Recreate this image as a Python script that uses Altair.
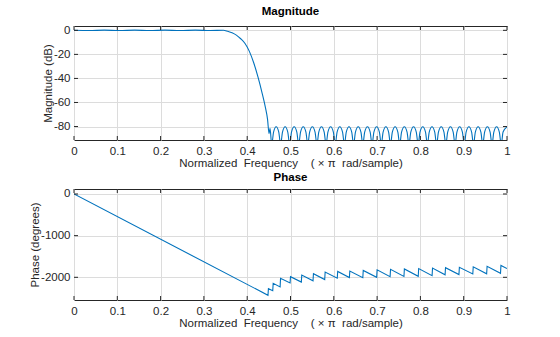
import altair as alt
import pandas as pd

FONT = "Liberation Sans"
LINE = "#0072BD"
TXT = "#262626"

freq_ticks = [0, 0.1, 0.2, 0.3, 0.4, 0.5, 0.6, 0.7, 0.8, 0.9, 1]
mag_ticks = [0, -20, -40, -60, -80]
phase_ticks = [0, -1000, -2000]

# Magnitude response (dB): passband, roll-off, then stopband lobes (null, shoulder, peak, shoulder)
mag_freq = [
    0.0, 0.035, 0.07, 0.105, 0.14, 0.175, 0.21, 0.245, 0.28, 0.315, 0.345,
    0.355, 0.365, 0.375, 0.385, 0.395, 0.405, 0.415, 0.425, 0.435, 0.442, 0.447, 0.4505, 0.4527,
    0.4566, 0.4609, 0.4669, 0.4729,
    0.4772, 0.4815, 0.4876, 0.4937,
    0.4980, 0.5023, 0.5085, 0.5146,
    0.5189, 0.5232, 0.5294, 0.5356,
    0.5399, 0.5442, 0.5505, 0.5567,
    0.5610, 0.5653, 0.5716, 0.5778,
    0.5821, 0.5864, 0.5927, 0.5990,
    0.6033, 0.6076, 0.6139, 0.6202,
    0.6245, 0.6288, 0.6351, 0.6414,
    0.6457, 0.6500, 0.6564, 0.6627,
    0.6670, 0.6713, 0.6777, 0.6840,
    0.6883, 0.6926, 0.6990, 0.7053,
    0.7096, 0.7139, 0.7203, 0.7266,
    0.7309, 0.7352, 0.7416, 0.7479,
    0.7522, 0.7565, 0.7629, 0.7692,
    0.7735, 0.7778, 0.7842, 0.7905,
    0.7948, 0.7991, 0.8055, 0.8118,
    0.8161, 0.8204, 0.8268, 0.8331,
    0.8374, 0.8417, 0.8481, 0.8544,
    0.8587, 0.8630, 0.8694, 0.8757,
    0.8800, 0.8843, 0.8907, 0.8970,
    0.9013, 0.9056, 0.9120, 0.9183,
    0.9226, 0.9269, 0.9333, 0.9397,
    0.9440, 0.9483, 0.9547, 0.9610,
    0.9653, 0.9696, 0.9760, 0.9823,
    0.9866, 0.9909, 1.0,
]
mag_db = [
    0.05, -0.15, 0.15, -0.15, 0.15, -0.15, 0.15, -0.15, 0.15, -0.15, 0.1,
    -0.8, -2.0, -4.0, -7.0, -11.0, -17.5, -27.0, -39.0, -53.0, -64.0, -74.0, -86.0, -81.5,
    -95, -84.6, -80.2, -84.6,
    -95, -84.6, -80.2, -84.6,
    -95, -84.6, -80.2, -84.6,
    -95, -84.6, -80.2, -84.6,
    -95, -84.6, -80.2, -84.6,
    -95, -84.6, -80.2, -84.6,
    -95, -84.6, -80.2, -84.6,
    -95, -84.6, -80.2, -84.6,
    -95, -84.6, -80.2, -84.6,
    -95, -84.6, -80.2, -84.6,
    -95, -84.6, -80.2, -84.6,
    -95, -84.6, -80.2, -84.6,
    -95, -84.6, -80.2, -84.6,
    -95, -84.6, -80.2, -84.6,
    -95, -84.6, -80.2, -84.6,
    -95, -84.6, -80.2, -84.6,
    -95, -84.6, -80.2, -84.6,
    -95, -84.6, -80.2, -84.6,
    -95, -84.6, -80.2, -84.6,
    -95, -84.6, -80.2, -84.6,
    -95, -84.6, -80.2, -84.6,
    -95, -84.6, -80.2, -84.6,
    -95, -84.6, -80.2, -84.6,
    -95, -84.6, -80.2, -84.6,
    -95, -84.6, -80.2, -84.6,
    -95, -84.6, -80.3,
]

# Unwrapped phase (degrees)
phase_freq = [
    0.0, 0.448, 0.449, 0.459, 0.460, 0.476, 0.477, 0.499, 0.500, 0.525, 0.526,
    0.552, 0.553, 0.579, 0.580, 0.608, 0.609, 0.636, 0.637, 0.667, 0.668,
    0.699, 0.700, 0.730, 0.731, 0.762, 0.763, 0.795, 0.796, 0.827, 0.828,
    0.857, 0.858, 0.889, 0.890, 0.921, 0.922, 0.953, 0.954, 0.985, 0.986, 1.0,
]
phase_deg = [
    0, -2431, -2272, -2320, -2144, -2230, -2024, -2135, -1986, -2115, -1945,
    -2085, -1914, -2055, -1873, -2020, -1860, -2005, -1850, -2010, -1835,
    -2000, -1820, -1985, -1810, -1980, -1800, -1975, -1790, -1960, -1780,
    -1940, -1770, -1935, -1760, -1920, -1748, -1915, -1735, -1905, -1715, -1790,
]

mag_df = pd.DataFrame({"f": mag_freq, "v": mag_db})
phase_df = pd.DataFrame({"f": phase_freq, "v": phase_deg})
xt_df = pd.DataFrame({"f": freq_ticks})
mt_df = pd.DataFrame({"v": mag_ticks})
pt_df = pd.DataFrame({"v": phase_ticks})

W = 433
H1 = 114
H2 = 111
FS = 11.5
XTITLE = "Normalized\u00a0 Frequency \u00a0\u00a0\u00a0( \u00d7 \u03c0 \u00a0rad/sample)"


def panel(df, ydom, yticks, ytitle, title, H, ytdf, toff):
    xs = alt.Scale(domain=[0, 1], nice=False, zero=False)
    ys = alt.Scale(domain=ydom, nice=False, zero=False)
    xax = alt.Axis(
        values=freq_ticks, format="~g", title=XTITLE, grid=True,
        gridColor="#dcdcdc", gridWidth=1, ticks=False, domain=False,
        labelPadding=5, titlePadding=1, labelFontSize=FS, titleFontSize=FS,
        labelColor=TXT, titleColor=TXT, titleFontWeight="normal", labelFont=FONT, titleFont=FONT,
        labelFlush=False, labelOverlap=False)
    yax = alt.Axis(
        values=yticks, labelExpr="toString(datum.value)", title=ytitle, grid=True,
        gridColor="#dcdcdc", gridWidth=1, ticks=False, domain=False,
        labelPadding=4, titlePadding=0, labelFontSize=FS, titleFontSize=FS,
        labelColor=TXT, titleColor=TXT, titleFontWeight="normal", labelFont=FONT, titleFont=FONT,
        labelFlush=False, labelOverlap=False)
    X = alt.X("f:Q", scale=xs, axis=xax)
    Y = alt.Y("v:Q", scale=ys, axis=yax)
    line = alt.Chart(df).mark_line(
        color=LINE, strokeWidth=1.1, clip=True,
        interpolate="monotone" if title == "Magnitude" else "linear",
    ).encode(x=X, y=Y)
    xb = alt.Chart(xt_df).mark_rule(color=TXT, strokeWidth=1).encode(
        x=X, y=alt.value(H), y2=alt.value(H - 4))
    xtop = alt.Chart(xt_df).mark_rule(color=TXT, strokeWidth=1).encode(
        x=X, y=alt.value(0), y2=alt.value(4))
    yl = alt.Chart(ytdf).mark_rule(color=TXT, strokeWidth=1).encode(
        y=Y, x=alt.value(0), x2=alt.value(4))
    yr = alt.Chart(ytdf).mark_rule(color=TXT, strokeWidth=1).encode(
        y=Y, x=alt.value(W - 4), x2=alt.value(W))
    return alt.layer(line, xb, xtop, yl, yr).properties(
        width=W, height=H,
        title=alt.TitleParams(title, fontSize=11.5, fontWeight="bold", font=FONT,
                              color="#000000", offset=toff, anchor="middle"),
    )


top = panel(mag_df, [-91.2, 3.6], mag_ticks, "Magnitude (dB)", "Magnitude", H1, mt_df, 7)
bot = panel(phase_df, [-2545, 120], phase_ticks, "Phase (degrees)", "Phase", H2, pt_df, 4)

chart = alt.vconcat(top, bot, spacing=1).configure(
    padding={"left": 29, "top": 5, "right": 10, "bottom": 5},
    background="white",
).configure_view(stroke=TXT, strokeWidth=1)

chart.save("out.html", embed_options={"renderer": "svg", "actions": False})
